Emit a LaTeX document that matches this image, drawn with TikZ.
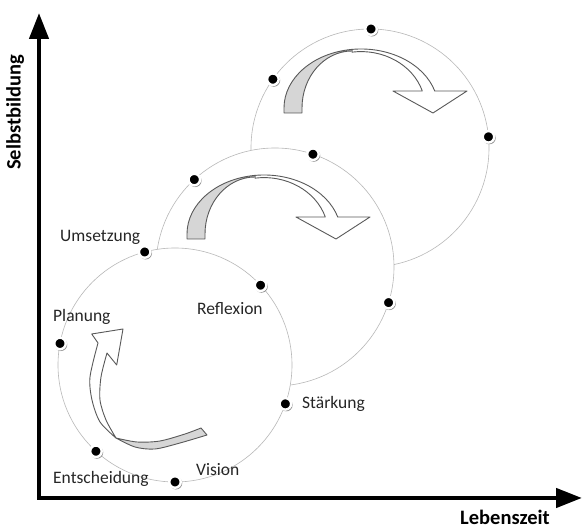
\documentclass[tikz,border=0pt]{standalone}
\usepackage{fontspec}
\setmainfont{Carlito}
\usetikzlibrary{arrows.meta,calc,shadows}

\tikzset{
  cyclering/.style={draw=black!28, line width=0.6pt, fill=white},
  blackdot/.style={circle, fill=black, draw=white, line width=2.4pt,
    minimum size=11.5pt, inner sep=0pt,
    circular drop shadow={shadow xshift=0.7pt, shadow yshift=-0.9pt, shadow scale=1.15}},
  axisline/.style={line width=4.5pt, line join=miter,
    {Triangle[length=26pt,width=19pt]}-{Triangle[length=26pt,width=19pt]}},
  lbl/.style={font=\fontsize{17.5}{20}\selectfont, text=black!85, inner sep=0pt, anchor=base west},
  axlbl/.style={font=\fontsize{20.5}{24}\selectfont\bfseries, inner sep=0pt, anchor=base west},
  ribbonfront/.style={fill=white, draw=black!65, line width=0.9pt, line join=round},
  ribbonback/.style={fill=black!16, draw=black!65, line width=0.9pt, line join=round},
  % curved arrow over the top of a cycle, origin = centre of its ellipse
  ribbon/.pic={
    \filldraw[ribbonfront] (-8.98,58.6)
      arc[start angle=96.7, end angle=16.75, x radius=77pt, y radius=59pt]
      -- (106,17) -- (72,-5) -- (32,17) -- (61.3,17)
      arc[start angle=17.54, end angle=98, x radius=64.3pt, y radius=56.4pt] -- cycle;
    \filldraw[ribbonback] (-77,-5) -- (-77,0)
      arc[start angle=180, end angle=96.7, x radius=77pt, y radius=59pt]
      -- (-9,57)
      arc[start angle=90, end angle=180, x radius=50pt, y radius=57pt]
      -- (-59,-5) -- cycle;
  }
}

\begin{document}
\begin{tikzpicture}[x=1pt,y=1pt]
\useasboundingbox (0,0) rectangle (582,529);

% centres of the three cycles
\coordinate (c1) at (175,164);
\coordinate (c2) at (275,262);
\coordinate (c3) at (370,381);

% cycles, later ones covering earlier ones
\draw[cyclering] (c3) circle[radius=119pt];
\draw[cyclering] (c2) circle[radius=119pt];
\draw[cyclering] (c1) circle[radius=117pt];

% axes
\coordinate (ytip) at (39,516);
\coordinate (origin) at (39,31);
\coordinate (xtip) at (582,31);
\draw[axisline] (ytip) -- (origin) -- (xtip);

% curved arrows on the upper cycles
\pic at (361,421) {ribbon};
\pic at (264,295) {ribbon};

% counter-clockwise arrow in the first cycle
\filldraw[ribbonfront] (98,186) -- (91.7,195) -- (123,200) -- (116.7,164) -- (107,176)
  -- plot[smooth] coordinates {(107,176) (101,152) (100,129) (106,109) (116,91)}
  -- plot[smooth] coordinates {(116,91) (100,107) (92,129) (90,152) (98,186)} -- cycle;
\filldraw[ribbonback]
  plot[smooth] coordinates {(116,91) (135,82) (155,80) (180,86) (207,94)}
  -- (201,101)
  -- plot[smooth] coordinates {(201,101) (185,95) (160,88) (137,87) (116,91)} -- cycle;

% stations on the cycles
\node[blackdot] (umsetzungdot) at ($(c1)+(105:117pt)$) {};
\node[blackdot] (planungdot) at ($(c1)+(169.4:117pt)$) {};
\node[blackdot] (entscheidungdot) at ($(c1)+(227.5:117pt)$) {};
\node[blackdot] (visiondot) at ($(c1)+(270:117pt)$) {};
\node[blackdot] (staerkungdot) at ($(c1)+(340.6:117pt)$) {};
\node[blackdot] (reflexiondot) at ($(c1)+(43:117pt)$) {};

\node[blackdot] (c2a) at ($(c2)+(132.7:119pt)$) {};
\node[blackdot] (c2b) at ($(c2)+(71.4:119pt)$) {};
\node[blackdot] (c2c) at ($(c2)+(-17.4:119pt)$) {};

\node[blackdot] (c3a) at ($(c3)+(144.7:119pt)$) {};
\node[blackdot] (c3b) at ($(c3)+(89.5:119pt)$) {};
\node[blackdot] (c3c) at ($(c3)+(5.4:119pt)$) {};

% labels
\node[lbl] (umsetzung) at (60,287) {Umsetzung};
\node[lbl] (planung) at (53,207) {Planung};
\node[lbl] (reflexion) at (197,214) {Reflexion};
\node[lbl] (staerkung) at (302,120) {Stärkung};
\node[lbl] (vision) at (196,53) {Vision};
\node[lbl] (entscheidung) at (53,45) {Entscheidung};

\node[axlbl, rotate=90] (ylabel) at (20.5,359) {Selbstbildung};
\node[axlbl] (xlabel) at (460,4.5) {Lebenszeit};
\end{tikzpicture}
\end{document}
